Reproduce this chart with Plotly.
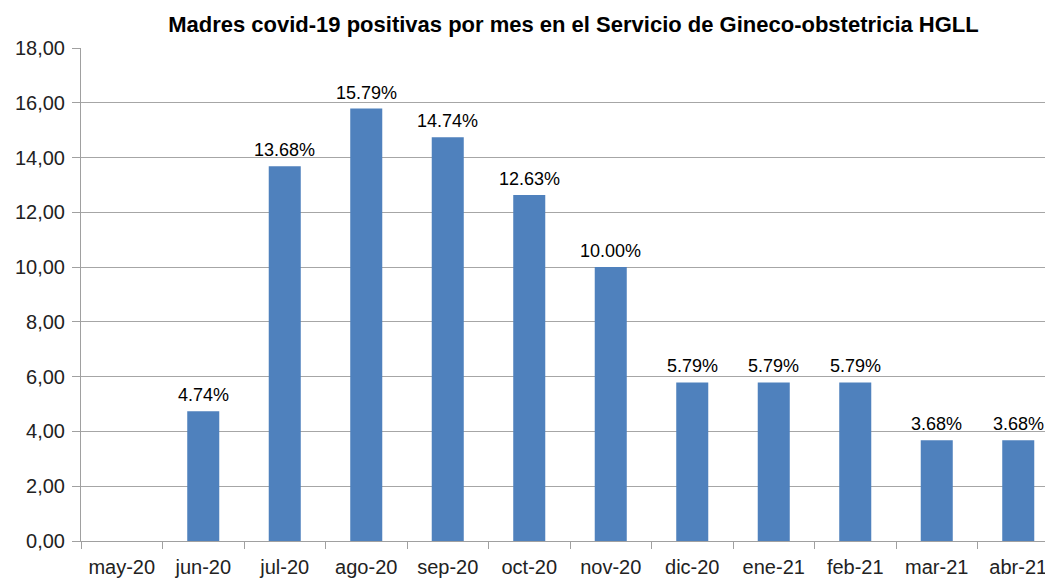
import plotly.graph_objects as go

months = ["may-20", "jun-20", "jul-20", "ago-20", "sep-20", "oct-20",
          "nov-20", "dic-20", "ene-21", "feb-21", "mar-21", "abr-21"]
values = [None, 4.74, 13.68, 15.79, 14.74, 12.63, 10.00, 5.79, 5.79, 5.79, 3.68, 3.68]
labels = ["" if v is None else f"{v:.2f}%" for v in values]
y_ticks = [0, 2, 4, 6, 8, 10, 12, 14, 16, 18]
y_tick_text = [f"{t:.2f}".replace(".", ",") for t in y_ticks]

fig = go.Figure(go.Bar(
    x=months, y=values,
    marker=dict(color="#4f81bd", line=dict(width=0)),
))

for m, v, lab in zip(months, values, labels):
    if v is None:
        continue
    fig.add_annotation(x=m, y=v, text=lab, showarrow=False, yanchor="bottom",
                       yshift=4, font=dict(size=18, color="#000000"))

fig.update_layout(
    width=1052, height=570,
    margin=dict(l=73, r=1, t=40, b=37),
    paper_bgcolor="white", plot_bgcolor="white",
    bargap=0.607,
    showlegend=False,
    font=dict(family="Liberation Sans, Arial", size=18, color="#000000"),
    title=dict(text="<b>Madres covid-19 positivas por mes en el Servicio de Gineco-obstetricia HGLL</b>",
               x=0.5375, xanchor="center", y=0.972, yanchor="middle",
               font=dict(size=22, color="#000000")),
)
fig.update_xaxes(
    showline=True, linecolor="#a0a0a0", linewidth=1,
    ticks="outside", tickson="boundaries", ticklen=7, tickcolor="#a0a0a0",
    showgrid=False, tickfont=dict(size=20, color="#222222"), automargin=False,
    ticklabelstandoff=8,
)
fig.update_yaxes(
    range=[0, 18], tickvals=y_ticks, ticktext=y_tick_text,
    showline=True, linecolor="#a0a0a0", linewidth=1,
    ticks="outside", ticklen=8, tickcolor="#a0a0a0",
    showgrid=True, gridcolor="#a6a6a6", gridwidth=1,
    zeroline=False, tickfont=dict(size=20, color="#222222"),
    ticklabelstandoff=3, automargin=False,
)

fig.write_html("out.html")
